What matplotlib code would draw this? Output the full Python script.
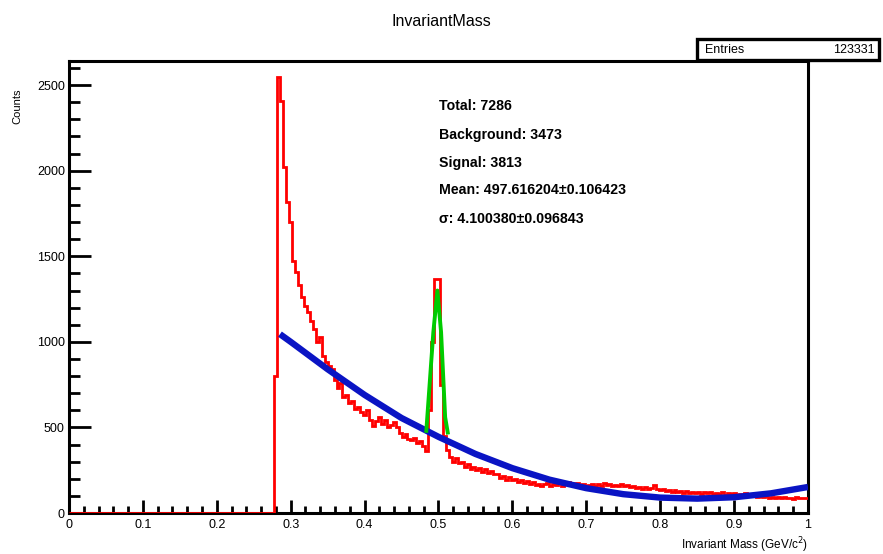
import numpy as np
import matplotlib
matplotlib.use("Agg")
import matplotlib.pyplot as plt
from matplotlib.patches import Rectangle
from matplotlib.ticker import MultipleLocator

# ---------------- data ----------------
title = "InvariantMass"
x_label = r"Invariant Mass (GeV/c$^{2}$)"
y_label = "Counts"
entries = "123331"
stats_lines = ["Total: 7286", "Background: 3473", "Signal: 3813",
               "Mean: 497.616204\u00b10.106423", "\u03c3: 4.100380\u00b10.096843"]

hist_start = 0.278
hist_width = 0.004
counts_a = [800, 2550, 2410, 2020, 1820, 1700, 1470, 1410, 1330, 1260,
            1210, 1175, 1120, 1075, 1000, 1030, 920, 880, 860, 840,
            780, 730, 760, 680, 690, 640, 655, 610, 620, 590,
            575, 600, 545, 510, 540, 560, 520, 545, 505, 515,
            530, 500, 470, 445, 460, 430, 425, 440, 410, 420]
counts_b = [390, 365, 600, 1000, 1370, 1370, 750, 450, 370, 330,
            300, 320, 290, 300, 270, 285, 255, 270, 250, 262,
            240, 255, 235, 245, 225, 230, 205, 215, 195, 210,
            190, 200, 180, 190, 175, 185, 170, 180, 165, 172,
            160, 168, 175, 160, 170, 165, 175, 160, 168, 180]
counts_c = [175, 165, 178, 160, 170, 158, 165, 172, 155, 168,
            160, 175, 165, 170, 158, 165, 160, 168, 155, 162,
            150, 158, 145, 152, 140, 150, 138, 145, 162, 140,
            132, 140, 128, 135, 125, 132, 120, 128, 118, 126,
            115, 122, 118, 125, 112, 120, 115, 122, 110, 118]
counts_d = [112, 120, 108, 116, 110, 118, 105, 112, 108, 115,
            102, 108, 100, 95, 102, 92, 98, 90, 95, 88,
            94, 86, 92, 85, 90, 84, 92, 86, 90, 85, 88]
counts = counts_a + counts_b + counts_c + counts_d

bkg_x = [0.2855, 0.30, 0.35, 0.40, 0.45, 0.50, 0.55, 0.60, 0.65, 0.70,
         0.75, 0.80, 0.85, 0.90, 0.95, 1.00]
bkg_y = [1045, 1000, 840, 690, 555, 445, 345, 262, 195, 145,
         110, 90, 84, 92, 115, 152]

sig_x = [0.4835, 0.4930, 0.4985, 0.5035, 0.5090, 0.5125]
sig_y = [480, 1056, 1300, 1056, 560, 470]

# ---------------- figure ----------------
W, H = 883, 554
fig = plt.figure(figsize=(W / 100, H / 100), dpi=100)
plt.rcParams['font.family'] = ['Liberation Sans', 'DejaVu Sans']

L, R, B, T = 69, 808, 513, 61
ax = fig.add_axes([L / W, 1 - B / H, (R - L) / W, (B - T) / H])

edges = np.concatenate([[0.0], hist_start + hist_width * np.arange(len(counts) + 1)])
vals = np.concatenate([[0], counts])
ax.stairs(vals, edges, color='#ff0000', lw=2.0, zorder=3)
ax.plot(bkg_x, bkg_y, color='#0a14c4', lw=4.6, solid_capstyle='butt', zorder=4)
ax.plot(sig_x, sig_y, color='#00cc00', lw=2.8, zorder=5)

ax.set_xlim(0, 1)
ax.set_ylim(0, 2641)
ax.xaxis.set_minor_locator(MultipleLocator(0.02))
ax.yaxis.set_major_locator(MultipleLocator(500))
ax.yaxis.set_minor_locator(MultipleLocator(100))
ax.set_xticks(np.arange(0, 1.01, 0.1))
ax.set_xticklabels(['0', '0.1', '0.2', '0.3', '0.4', '0.5', '0.6', '0.7', '0.8', '0.9', '1'])
ax.tick_params(axis='x', which='major', direction='in', length=9.5, width=2, pad=4,
               labelsize=9)
ax.tick_params(axis='x', which='minor', direction='in', length=4.8, width=2)
ax.tick_params(axis='y', which='major', direction='in', length=16, width=2, pad=3,
               labelsize=9)
ax.tick_params(axis='y', which='minor', direction='in', length=8, width=2)
for s in ax.spines.values():
    s.set_linewidth(2.2)

fig.text(0.5, 1 - 22 / H, title, ha='center', va='center', fontsize=11.5)
fig.text(17 / W, 1 - 88 / H, y_label, rotation=90, ha='center', va='top', fontsize=8)
fig.text(R / W, 1 - 549 / H, x_label, ha='right', va='baseline', fontsize=8.5)

# stats box
bx0, by0, bx1, by1 = 697, 39, 879, 60
fig.patches.append(Rectangle((bx0 / W, 1 - by1 / H), (bx1 - bx0) / W, (by1 - by0) / H,
                             transform=fig.transFigure, facecolor='white',
                             edgecolor='black', lw=2.4, zorder=10))
fig.text(705 / W, 1 - 50 / H, "Entries", ha='left', va='center', fontsize=9, zorder=11)
fig.text(875 / W, 1 - 50 / H, entries, ha='right', va='center', fontsize=9, zorder=11)

ys = [106, 135, 163, 190, 219]
for line, yy in zip(stats_lines, ys):
    fig.text(439 / W, 1 - yy / H, line, ha='left', va='center',
             fontsize=10.2, fontweight='bold')

fig.savefig('out.png', dpi=100)
